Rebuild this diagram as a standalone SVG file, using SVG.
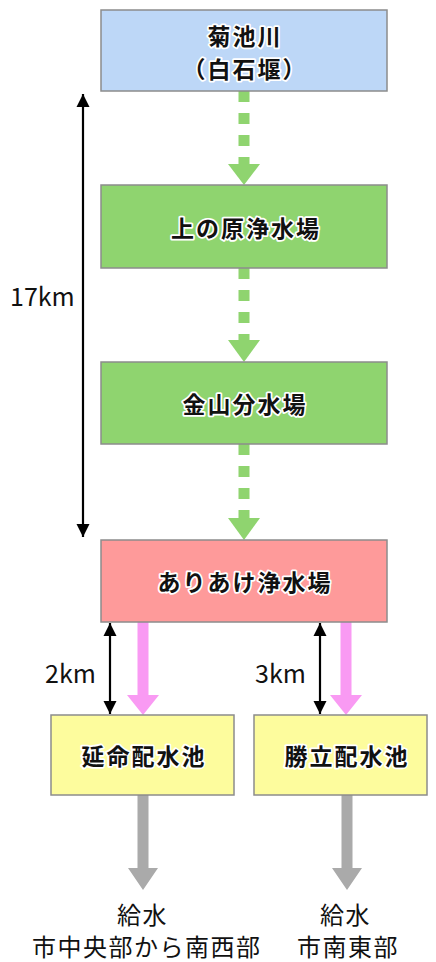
<svg xmlns="http://www.w3.org/2000/svg" width="436" height="962" viewBox="0 0 436 962">
<style>
.box{stroke:#8c8c8c;stroke-width:1.5}
.lbl{font-family:"Noto Sans CJK JP","Noto Sans CJK SC",sans-serif;font-size:23px;font-weight:bold;fill:#111;stroke:#fff;stroke-width:3.5;stroke-linejoin:round;paint-order:stroke;text-anchor:middle;letter-spacing:2px}
.km{font-family:"Noto Sans CJK JP","Noto Sans",sans-serif;font-size:25px;fill:#111}
.out{font-family:"Noto Sans CJK JP","Noto Sans CJK SC",sans-serif;font-size:24px;fill:#111;letter-spacing:1.5px}
.dash{stroke:#8fd46f;stroke-width:11;stroke-dasharray:11 11;fill:none}
.pink{fill:#f99af3}
.gray{fill:#aaaaaa}
.green{fill:#8fd46f}
.dim{stroke:#000;stroke-width:2.2;fill:none}
</style>
<defs>
<marker id="ah" viewBox="0 0 10 10" refX="10" refY="5" markerWidth="6" markerHeight="6" markerUnits="strokeWidth" orient="auto-start-reverse">
<path d="M0,0 L10,5 L0,10 Z" fill="#000"/>
</marker>
</defs>
<g id="connectors">
<line class="dash" x1="244" y1="91" x2="244" y2="165"/>
<polygon class="green" points="228,164 260,164 244,185"/>
<line class="dash" x1="244" y1="268" x2="244" y2="341"/>
<polygon class="green" points="228,340 260,340 244,362"/>
<line class="dash" x1="244" y1="444" x2="244" y2="519"/>
<polygon class="green" points="228,518 260,518 244,540"/>
<line class="dim" x1="83" y1="94" x2="83" y2="537" marker-start="url(#ah)" marker-end="url(#ah)"/>
<line class="dim" x1="110" y1="623" x2="110" y2="714" marker-start="url(#ah)" marker-end="url(#ah)"/>
<line class="dim" x1="320" y1="623" x2="320" y2="714" marker-start="url(#ah)" marker-end="url(#ah)"/>
<polygon class="pink" points="137.5,622 148.5,622 148.5,695 159,695 143,715 127,695 137.5,695"/>
<polygon class="pink" points="340.5,622 351.5,622 351.5,695 362,695 346,715 330,695 340.5,695"/>
<polygon class="gray" points="137.5,795 148.5,795 148.5,868 158,868 143,890 128,868 137.5,868"/>
<polygon class="gray" points="341.5,795 352.5,795 352.5,868 362,868 347,890 332,868 341.5,868"/>
</g>
<text class="km" x="10" y="306">17km</text>
<text class="km" x="45" y="683">2km</text>
<text class="km" x="255" y="683">3km</text>
<g id="kikuchigawa">
<rect class="box" x="101" y="10" width="286" height="81" fill="#bdd7f7"/>
<text class="lbl" x="245" y="45">菊池川</text>
<text class="lbl" x="245" y="78">（白石堰）</text>
</g>
<g id="uenohara">
<rect class="box" x="101" y="185" width="286" height="83" fill="#8fd46f"/>
<text class="lbl" x="246" y="237">上の原浄水場</text>
</g>
<g id="kanayama">
<rect class="box" x="101" y="362" width="286" height="82" fill="#8fd46f"/>
<text class="lbl" x="245" y="413">金山分水場</text>
</g>
<g id="ariake">
<rect class="box" x="101" y="540" width="286" height="82" fill="#fe9a9a"/>
<text class="lbl" x="245" y="591">ありあけ浄水場</text>
</g>
<g id="enmei">
<rect class="box" x="51" y="715" width="183" height="80" fill="#fdfc9d"/>
<text class="lbl" x="144" y="765">延命配水池</text>
</g>
<g id="katsudachi">
<rect class="box" x="254" y="715" width="173" height="80" fill="#fdfc9d"/>
<text class="lbl" x="347" y="765">勝立配水池</text>
</g>
<g id="out1">
<text class="out" x="117" y="924">給水</text>
<text class="out" x="32" y="956">市中央部から南西部</text>
</g>
<g id="out2">
<text class="out" x="320" y="924">給水</text>
<text class="out" x="297" y="956">市南東部</text>
</g>
</svg>
